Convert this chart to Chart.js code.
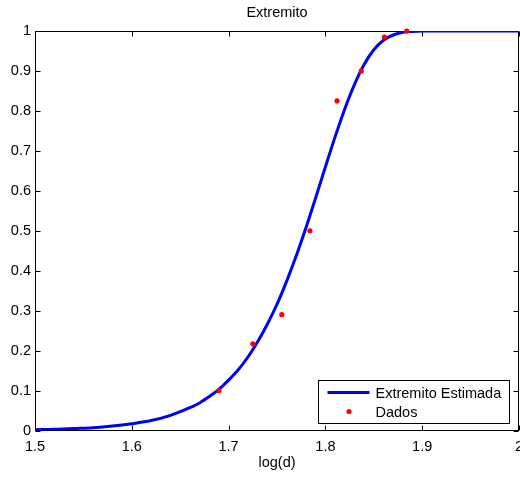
<!DOCTYPE html>
<html>
<head>
<meta charset="utf-8">
<title>Extremito</title>
<script src="https://cdn.jsdelivr.net/npm/chart.js@4.4.1/dist/chart.umd.min.js"></script>
<style>
    html, body { margin: 0; padding: 0; background: #fff; }
    #chart { display: block; }
</style>
</head>
<body>
<canvas id="chart" width="520" height="477"></canvas>
<script>
// Curve (fitted extreme value CDF)
const curveX = [1.50, 1.52, 1.54, 1.56, 1.58, 1.60, 1.62, 1.64, 1.66, 1.67, 1.68, 1.69, 1.70,
    1.71, 1.72, 1.73, 1.74, 1.75, 1.76, 1.77, 1.78, 1.79, 1.80, 1.81, 1.82, 1.83, 1.84,
    1.85, 1.86, 1.87, 1.88, 1.89, 1.90, 1.92, 1.95, 2.00];
const curveY = [0.002, 0.003, 0.005, 0.007, 0.011, 0.017, 0.025, 0.038, 0.057, 0.069, 0.085, 0.103, 0.126,
    0.152, 0.184, 0.222, 0.266, 0.316, 0.374, 0.438, 0.508, 0.583, 0.660, 0.735, 0.805, 0.866, 0.916,
    0.953, 0.977, 0.990, 0.997, 0.999, 1.000, 1.000, 1.000, 1.000];

// Observed points
const dataX = [1.690, 1.725, 1.755, 1.784, 1.812, 1.837, 1.861, 1.884];
const dataY = [0.100, 0.217, 0.290, 0.500, 0.825, 0.900, 0.985, 1.000];

const xTickLabels = ['1.5', '1.6', '1.7', '1.8', '1.9', '2'];
const yTickLabels = ['0', '0.1', '0.2', '0.3', '0.4', '0.5', '0.6', '0.7', '0.8', '0.9', '1'];

const FONT = '"Liberation Sans", Arial, Helvetica, sans-serif';
const FONT_SIZE = 14.5;

// MATLAB style box with inward ticks on all four sides
const axesBox = {
    id: 'axesBox',
    beforeDatasetsDraw(chart) {
        const { ctx, chartArea: a, scales } = chart;
        const tick = 5;
        ctx.save();
        ctx.strokeStyle = '#000';
        ctx.lineWidth = 1;
        const l = Math.round(a.left) + 0.5, r = Math.round(a.right) - 0.5;
        const t = Math.round(a.top) + 0.5, b = Math.round(a.bottom) - 0.5;
        ctx.strokeRect(l, t, r - l, b - t);
        ctx.beginPath();
        scales.x.ticks.forEach(tk => {
            const px = Math.round(scales.x.getPixelForValue(tk.value)) + 0.5;
            ctx.moveTo(px, b); ctx.lineTo(px, b - tick);
            ctx.moveTo(px, t); ctx.lineTo(px, t + tick);
        });
        scales.y.ticks.forEach(tk => {
            const py = Math.round(scales.y.getPixelForValue(tk.value)) + 0.5;
            ctx.moveTo(l, py); ctx.lineTo(l + tick, py);
            ctx.moveTo(r, py); ctx.lineTo(r - tick, py);
        });
        ctx.stroke();
        ctx.restore();
    }
};

// Legend box in the lower right corner of the axes
const boxLegend = {
    id: 'boxLegend',
    afterDraw(chart) {
        const { ctx, chartArea: a } = chart;
        const curve = chart.data.datasets[1];
        const dots = chart.data.datasets[0];
        const w = 191, h = 43;
        const x0 = Math.round(a.right) - 10 - w + 0.5;
        const y0 = Math.round(a.bottom) - 8 - h + 0.5;
        ctx.save();
        ctx.fillStyle = '#fff';
        ctx.fillRect(x0, y0, w, h);
        ctx.strokeStyle = '#000';
        ctx.lineWidth = 1;
        ctx.strokeRect(x0, y0, w, h);

        const row1 = y0 + 12, row2 = y0 + 31;
        ctx.strokeStyle = curve.borderColor;
        ctx.lineWidth = curve.borderWidth;
        ctx.beginPath();
        ctx.moveTo(x0 + 9, row1);
        ctx.lineTo(x0 + 51, row1);
        ctx.stroke();

        ctx.fillStyle = dots.backgroundColor;
        ctx.beginPath();
        ctx.arc(x0 + 30.5, row2, dots.pointRadius, 0, Math.PI * 2);
        ctx.fill();

        ctx.fillStyle = '#000';
        ctx.font = FONT_SIZE + 'px ' + FONT;
        ctx.textBaseline = 'middle';
        ctx.textAlign = 'left';
        ctx.fillText(curve.label, x0 + 57, row1 + 1);
        ctx.fillText(dots.label, x0 + 57, row2 + 1);
        ctx.restore();
    }
};

new Chart(document.getElementById('chart'), {
    type: 'scatter',
    data: {
        datasets: [
            {
                label: 'Dados',
                data: dataX.map((x, i) => ({ x: x, y: dataY[i] })),
                backgroundColor: '#ff0000',
                borderColor: '#ff0000',
                pointRadius: 2.6,
                pointBorderWidth: 0,
                showLine: false,
                clip: 6,
                order: 1
            },
            {
                label: 'Extremito Estimada',
                data: curveX.map((x, i) => ({ x: x, y: curveY[i] })),
                borderColor: '#0000ff',
                backgroundColor: '#0000ff',
                borderWidth: 3,
                pointRadius: 0,
                showLine: true,
                cubicInterpolationMode: 'monotone',
                order: 2
            }
        ]
    },
    options: {
        responsive: false,
        animation: false,
        devicePixelRatio: 1,
        layout: { autoPadding: false, padding: { left: 0, right: 1, top: 0, bottom: 0 } },
        plugins: {
            legend: { display: false },
            tooltip: { enabled: false },
            title: {
                display: true,
                text: 'Extremito',
                fullSize: false,
                color: '#000',
                font: { family: FONT, size: FONT_SIZE, weight: 'normal' },
                padding: { top: 4, bottom: 9.6 }
            }
        },
        scales: {
            x: {
                type: 'linear',
                min: 1.5,
                max: 2,
                grid: { display: false, drawTicks: false },
                border: { display: false },
                ticks: {
                    stepSize: 0.1,
                    color: '#000',
                    padding: 8,
                    maxRotation: 0,
                    font: { family: FONT, size: FONT_SIZE },
                    callback: (v, i) => xTickLabels[i]
                },
                title: {
                    display: true,
                    text: 'log(d)',
                    color: '#000',
                    font: { family: FONT, size: FONT_SIZE },
                    padding: { top: 0, bottom: 5 }
                },
                afterFit: s => { s.height = 46.5; s.paddingLeft = 0; s.paddingRight = 0; }
            },
            y: {
                type: 'linear',
                min: 0,
                max: 1,
                grid: { display: false, drawTicks: false },
                border: { display: false },
                ticks: {
                    stepSize: 0.1,
                    color: '#000',
                    padding: 4,
                    font: { family: FONT, size: FONT_SIZE },
                    callback: (v, i) => yTickLabels[i]
                },
                afterFit: s => { s.width = 35; s.paddingTop = 0; s.paddingBottom = 0; }
            }
        }
    },
    plugins: [axesBox, boxLegend]
});
</script>
</body>
</html>
